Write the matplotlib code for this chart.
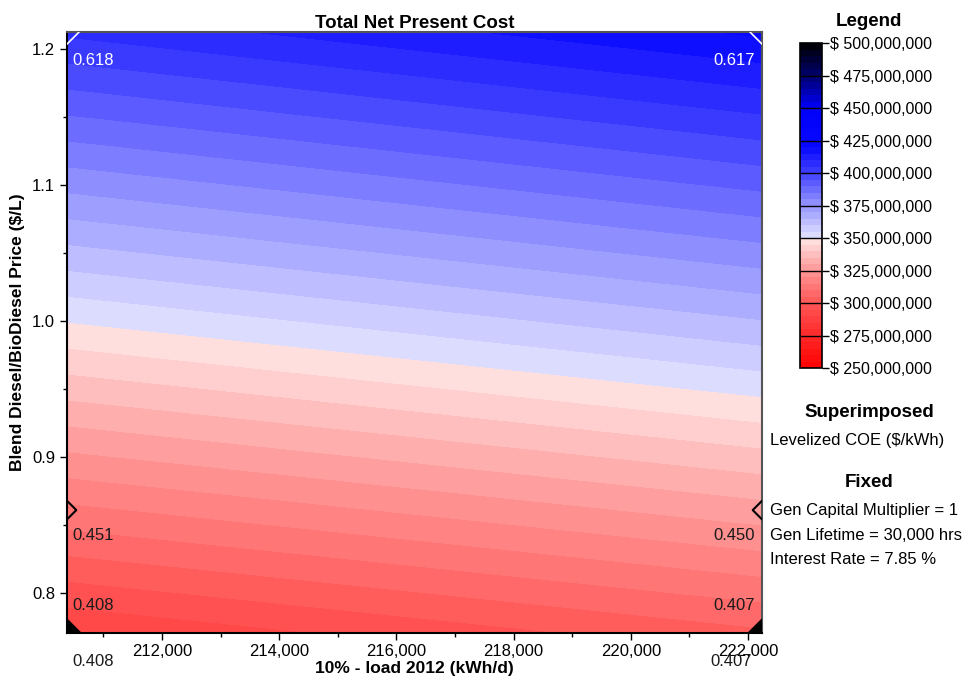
import matplotlib
matplotlib.use("Agg")
import matplotlib.pyplot as plt
import numpy as np
from matplotlib.colors import ListedColormap, BoundaryNorm
from matplotlib.cm import ScalarMappable
from matplotlib.ticker import FuncFormatter, MultipleLocator

plt.rcParams['font.family'] = ['Liberation Sans', 'DejaVu Sans']

# grid of the sensitivity surface (corners)
load_kwh = np.array([210379, 222239])
price = np.array([0.7706, 1.2125])
npc = np.array([[290e6, 304e6],
                [406e6, 421e6]])

# superimposed levelized COE values
coe_price = [0.7706, 0.861, 1.2125]
coe_left = [0.408, 0.451, 0.618]
coe_right = [0.407, 0.450, 0.617]

fixed_lines = ["Gen Capital Multiplier = 1",
               "Gen Lifetime = 30,000 hrs",
               "Interest Rate = 7.85 %"]

# colour scale: 5M bands from 250M to 500M
levels = np.arange(250e6, 500e6 + 1, 5e6)
centers = (levels[:-1] + levels[1:]) / 2 / 1e6
anc_v = [250, 275, 300, 325, 349.99, 350, 375, 400, 420, 450, 475, 500]
anc_r = [255, 255, 255, 255, 255, 228, 150, 65, 8, 0, 0, 0]
anc_g = [0, 40, 85, 150, 230, 228, 150, 65, 8, 0, 0, 0]
anc_b = [0, 40, 85, 150, 230, 255, 255, 255, 255, 250, 110, 0]
band_colors = np.column_stack([np.interp(centers, anc_v, anc_r),
                               np.interp(centers, anc_v, anc_g),
                               np.interp(centers, anc_v, anc_b)]) / 255
cmap = ListedColormap(band_colors)
norm = BoundaryNorm(levels, cmap.N)

fig = plt.figure(figsize=(9.71, 6.82), dpi=100)
ax = fig.add_axes([0.069, 0.0718, 0.7158, 0.8812])

ax.contourf(load_kwh, price, npc, levels=levels, cmap=cmap, norm=norm, antialiased=False)
ax.set_xlim(load_kwh[0], load_kwh[1])
ax.set_ylim(price[0], price[1])

# markers at the superimposed points (clipped by the frame)
x0, x1 = load_kwh
ax.scatter([x0, x1], [coe_price[0]] * 2, marker='D', s=200, facecolor='black', edgecolor='black',
           hatch='////', clip_on=True, zorder=3)
ax.scatter([x0, x1], [coe_price[1]] * 2, marker='D', s=90, facecolor='none', edgecolor='black',
           linewidth=1.5, clip_on=True, zorder=3)
ax.scatter([x0, x1], [coe_price[2]] * 2, marker='D', s=150, facecolor='none', edgecolor='white',
           linewidth=1.2, clip_on=True, zorder=3)

offs = [28, -25, -28]
for p, vl, vr, dy in zip(coe_price, coe_left, coe_right, offs):
    col = 'white' if p == coe_price[2] else '#1a1a1a'
    ax.annotate(f"{vl:.3f}", (x0, p), xytext=(5, dy), textcoords='offset pixels',
                ha='left', va='center', fontsize=12, color=col)
    ax.annotate(f"{vr:.3f}", (x1, p), xytext=(-7, dy), textcoords='offset pixels',
                ha='right', va='center', fontsize=12, color=col)
# stray labels under the axis
ax.annotate(f"{coe_left[0]:.3f}", (x0, coe_price[0]), xytext=(5, -28), textcoords='offset pixels',
            ha='left', va='center', fontsize=12, color='#1a1a1a', annotation_clip=False)
ax.annotate(f"{coe_right[0]:.3f}", (x1, coe_price[0]), xytext=(-10, -28), textcoords='offset pixels',
            ha='right', va='center', fontsize=12, color='#1a1a1a', annotation_clip=False)

ax.xaxis.set_major_locator(MultipleLocator(2000))
ax.xaxis.set_minor_locator(MultipleLocator(1000))
ax.yaxis.set_major_locator(MultipleLocator(0.1))
ax.yaxis.set_minor_locator(MultipleLocator(0.05))
ax.xaxis.set_major_formatter(FuncFormatter(lambda v, p: f"{v:,.0f}"))
ax.yaxis.set_major_formatter(FuncFormatter(lambda v, p: f"{v:.1f}"))
ax.tick_params(which='major', length=5, width=1, labelsize=12, colors='black')
ax.tick_params(which='minor', length=3, width=1)
ax.tick_params(axis='x', pad=3)

for s in ['left', 'bottom']:
    ax.spines[s].set_color('black')
    ax.spines[s].set_linewidth(1.5)
for s in ['top', 'right']:
    ax.spines[s].set_color('#555555')
    ax.spines[s].set_linewidth(1.5)

ax.set_title("Total Net Present Cost", fontsize=13.5, fontweight='bold', pad=2)
ax.set_xlabel("10% - load 2012 (kWh/d)", fontsize=12.5, fontweight='bold', labelpad=1)
ax.set_ylabel(r"Blend Diesel/BioDiesel Price (\$/L)", fontsize=12.5, fontweight='bold', labelpad=5)

# legend colour bar
cax = fig.add_axes([0.824, 0.4604, 0.0227, 0.4765])
sm = ScalarMappable(norm=norm, cmap=cmap)
cb = fig.colorbar(sm, cax=cax, ticks=np.arange(250e6, 500e6 + 1, 25e6))
cb.ax.minorticks_off()
cb.ax.yaxis.set_major_formatter(FuncFormatter(lambda v, p: r"\$ " + f"{v:,.0f}"))
cb.ax.tick_params(length=5, width=1, labelsize=11.5, pad=1)
cb.outline.set_edgecolor('black')
cb.outline.set_linewidth(1.2)
for t in np.arange(250e6, 500e6 + 1, 25e6):
    cax.axhline(t, color='black', linewidth=1)

fig.text(0.895, 0.969, "Legend", ha='center', va='center', fontsize=13.5, fontweight='bold')
fig.text(0.895, 0.395, "Superimposed", ha='center', va='center', fontsize=13.5, fontweight='bold')
fig.text(0.793, 0.354, r"Levelized COE (\$/kWh)", ha='left', va='center', fontsize=12)
fig.text(0.895, 0.292, "Fixed", ha='center', va='center', fontsize=13.5, fontweight='bold')
for i, line in enumerate(fixed_lines):
    fig.text(0.793, 1 - (511 + 24.5 * i) / 682, line, ha='left', va='center', fontsize=12)

fig.savefig("out.png", dpi=100)
